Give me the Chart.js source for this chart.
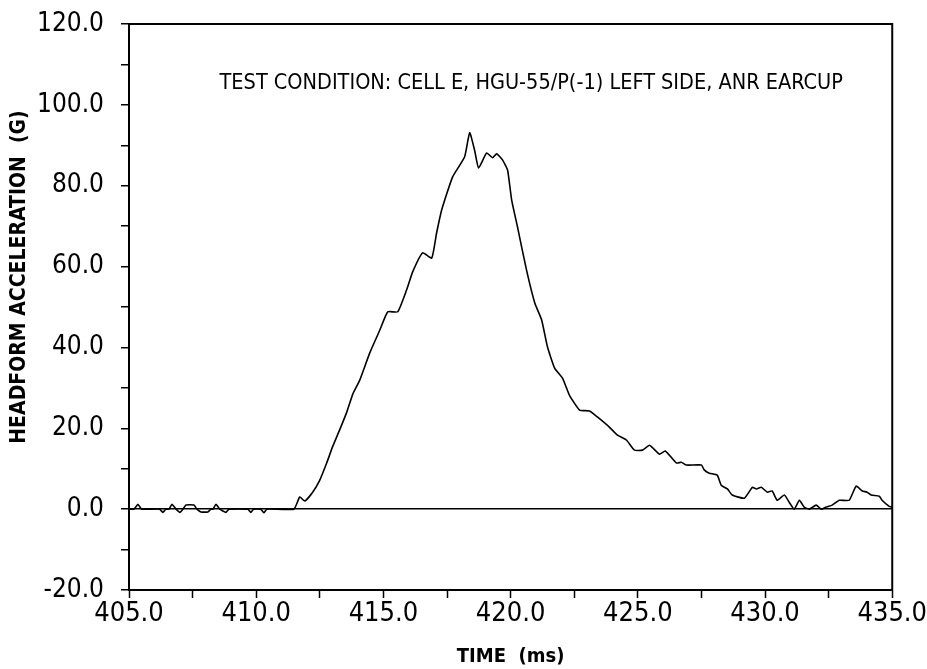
<!DOCTYPE html>
<html>
<head>
<meta charset="utf-8">
<script src="https://cdn.jsdelivr.net/npm/chart.js@4/dist/chart.umd.min.js"></script>
<style>
  html, body { margin: 0; padding: 0; background: #fff; }
  #wrap { width: 927px; height: 669px; }
</style>
</head>
<body>
<div id="wrap"><canvas id="accelChart" width="927" height="669"></canvas></div>
<script>
// Time axis (ms) and headform acceleration (G)
const timeMs = [
  405.0, 405.2, 405.35, 405.5, 406.2, 406.33, 406.45, 406.57, 406.69, 406.85,
  407.0, 407.12, 407.24, 407.55, 407.67, 407.83, 408.1, 408.22, 408.3, 408.42,
  408.57, 408.81, 408.93, 409.67, 409.79, 409.9, 410.18, 410.3, 410.42, 411.48,
  411.71, 411.91, 412.22, 412.5, 412.77, 413.0, 413.28, 413.56, 413.8, 414.07,
  414.46, 414.86, 415.17, 415.56, 415.91, 416.15, 416.54, 416.9, 417.09, 417.29,
  417.72, 418.19, 418.39, 418.58, 418.74, 419.06, 419.29, 419.45, 419.68, 419.88,
  420.04, 420.27, 420.63, 420.95, 421.22, 421.45, 421.73, 422.04, 422.31, 422.71,
  423.1, 423.41, 423.88, 424.2, 424.55, 424.87, 425.18, 425.46, 425.85, 426.08,
  426.52, 426.71, 426.91, 427.5, 427.61, 427.81, 428.12, 428.28, 428.52, 428.71,
  429.19, 429.5, 429.66, 429.85, 430.09, 430.28, 430.48, 430.76, 430.95, 431.15,
  431.35, 431.54, 431.74, 432.01, 432.21, 432.4, 432.64, 432.92, 433.31, 433.58,
  433.82, 434.01, 434.17, 434.49, 434.6, 434.88, 435.0
];
const accelG = [
  0, 0, 1.2, 0, 0, -0.8, 0, 0, 1.2, 0,
  -0.8, 0, 1.0, 1.0, 0, -0.7, -0.7, 0, 0, 1.2,
  0, -0.8, 0, 0, -0.8, 0, 0, -0.9, 0, 0,
  3.0, 2.0, 4.2, 7.2, 11.4, 15.4, 19.6, 24.0, 28.5, 31.9,
  38.6, 44.3, 48.8, 48.8, 54.2, 58.7, 63.4, 62.1, 68.3, 74.0,
  82.2, 87.1, 93.1, 88.9, 84.4, 88.1, 86.9, 87.9, 86.4, 83.9,
  76.5, 69.8, 59.0, 51.0, 46.8, 40.1, 34.9, 32.4, 28.2, 24.5,
  24.3, 22.8, 20.3, 18.3, 17.1, 14.6, 14.6, 15.8, 13.6, 14.4,
  11.4, 11.6, 10.9, 10.9, 9.7, 8.9, 8.4, 5.9, 5.0, 3.5,
  2.7, 5.4, 5.0, 5.4, 4.2, 4.5, 2.2, 3.5, 1.7, 0,
  2.2, 0.5, 0, 1.0, 0, 0.5, 1.0, 2.2, 2.2, 5.7,
  4.5, 4.2, 3.5, 3.2, 2.2, 0.7, 0.5
];

const chartTitle = 'TEST CONDITION: CELL E, HGU-55/P(-1) LEFT SIDE, ANR EARCUP';
const xAxisTitle = 'TIME  (ms)';
const yAxisTitle = 'HEADFORM ACCELERATION  (G)';

const FONT = "'Liberation Sans Narrow', 'DejaVu Sans Condensed', 'Liberation Sans', sans-serif";

// Draws the frame round the plot, the test-condition text and the y title
const framePlugin = {
  id: 'frame',
  afterDraw(chart) {
    const { ctx, chartArea: a } = chart;
    ctx.save();
    ctx.strokeStyle = '#000';
    ctx.lineWidth = 2;
    ctx.strokeRect(a.left, a.top, a.right - a.left, a.bottom - a.top);
    ctx.fillStyle = '#000';
    ctx.font = '21.5px ' + FONT;
    ctx.textAlign = 'center';
    ctx.textBaseline = 'middle';
    ctx.fillText(chartTitle, a.left + (a.right - a.left) * 0.527, a.top + 59);

    // y axis title sits a little above the axis centre in the original
    ctx.font = 'bold 21px ' + FONT;
    ctx.translate(20, a.top + (a.bottom - a.top) * 0.447);
    ctx.rotate(-Math.PI / 2);
    ctx.fillText(yAxisTitle, 0, 0);
    ctx.restore();
  }
};

const points = timeMs.map((t, i) => ({ x: t, y: accelG[i] }));

new Chart(document.getElementById('accelChart').getContext('2d'), {
  type: 'line',
  data: {
    datasets: [{
      data: points,
      borderColor: '#000',
      borderWidth: 1.6,
      pointRadius: 0,
      tension: 0.15,
      fill: false
    }]
  },
  options: {
    responsive: false,
    animation: false,
    layout: { padding: { left: 0, right: 34, top: 24, bottom: 0 } },
    plugins: { legend: { display: false }, tooltip: { enabled: false } },
    scales: {
      x: {
        type: 'linear',
        min: 405, max: 435,
        afterFit: s => { s.height = 79; },
        ticks: {
          stepSize: 2.5,
          autoSkip: false,
          maxRotation: 0,
          color: '#000',
          padding: 0,
          font: { family: FONT, size: 27 },
          callback: v => (Math.abs(v % 5) < 1e-6 ? v.toFixed(1) : '')
        },
        grid: { drawOnChartArea: false, drawTicks: true, tickLength: 8, tickColor: '#000', tickWidth: 1.5 },
        border: { display: true, color: '#000', width: 2 },
        title: {
          display: true, text: xAxisTitle, color: '#000',
          font: { family: FONT, size: 20, weight: 'bold' },
          padding: { top: 2, bottom: 0 }
        }
      },
      y: {
        min: -20, max: 120,
        afterFit: s => { s.width = 129; s.paddingTop = 0; s.paddingBottom = 0; },
        ticks: {
          stepSize: 10,
          autoSkip: false,
          color: '#000',
          padding: 17,
          font: { family: FONT, size: 26 },
          callback: v => (Math.abs(v % 20) < 1e-6 ? v.toFixed(1) : '')
        },
        grid: {
          drawOnChartArea: true,
          drawTicks: true,
          tickLength: 8,
          tickColor: '#000',
          tickWidth: 1.5,
          color: c => (c.tick && c.tick.value === 0 ? '#000' : 'rgba(0,0,0,0)'),
          lineWidth: 1.5
        },
        border: { display: true, color: '#000', width: 2 }
      }
    }
  },
  plugins: [framePlugin]
});
</script>
</body>
</html>
